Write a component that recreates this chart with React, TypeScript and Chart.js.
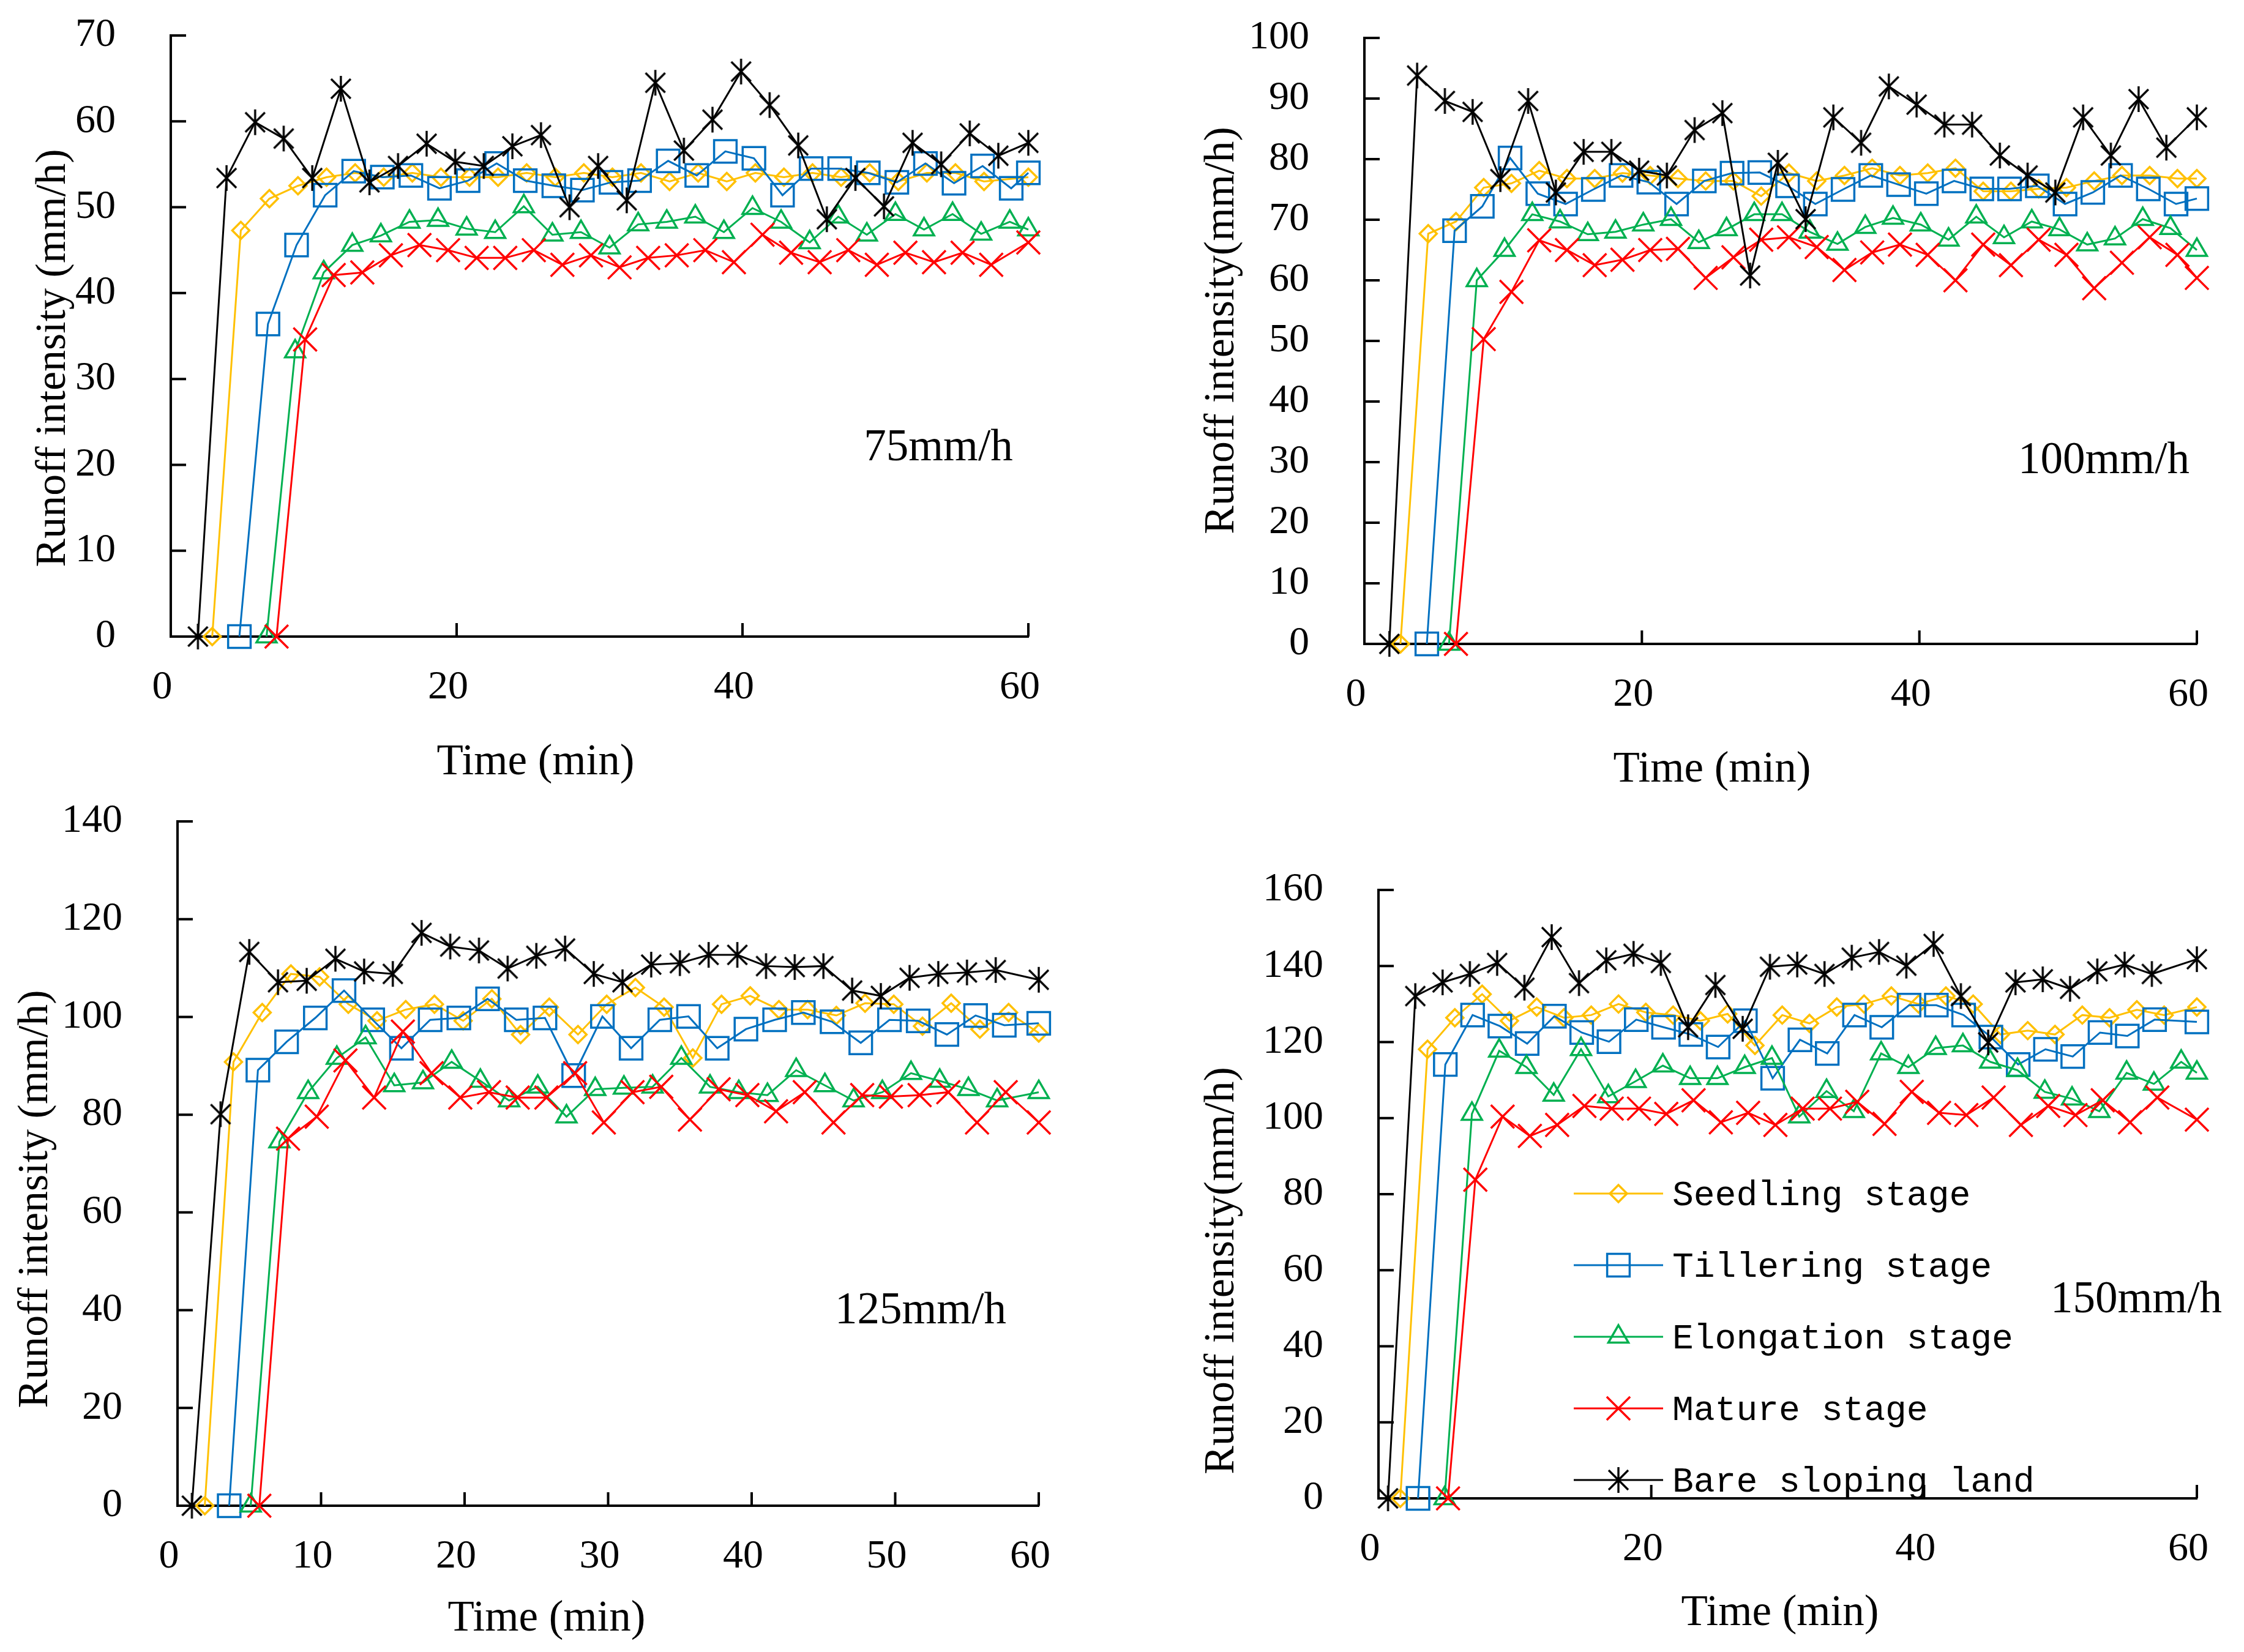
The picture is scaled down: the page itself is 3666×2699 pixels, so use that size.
import React, { useEffect, useRef } from "react";
import { Chart, registerables } from "chart.js";
import { drawPoint } from "chart.js/helpers";

Chart.register(...registerables);

// ---- series labels (legend order) ----
const SERIES_LABELS = [
  "Seedling stage",
  "Tillering stage",
  "Elongation stage",
  "Mature stage",
  "Bare sloping land",
];

// ---- 75 mm/h ----
const seedling75 = [0, 47.3, 51.0, 52.5, 53.5, 54.0, 53.5, 54.0, 53.5, 53.5, 53.5, 54.0, 53.5, 54.0, 53.5, 54.0, 53.0, 54.0, 53.0, 54.0, 53.5, 54.0, 53.5, 54.0, 53.0, 54.0, 54.0, 53.0, 53.5];
const tillering75 = [0, 36.4, 45.6, 51.4, 54.2, 53.5, 53.7, 52.2, 53.1, 55.1, 53.1, 52.5, 52.0, 52.9, 53.1, 55.4, 53.7, 56.5, 55.7, 51.4, 54.5, 54.5, 54.0, 52.9, 55.1, 52.8, 54.8, 52.2, 54.0];
const elongation75 = [0, 33.2, 42.4, 45.6, 46.7, 48.3, 48.5, 47.5, 47.1, 50.1, 46.8, 47.1, 45.3, 48.0, 48.3, 48.9, 47.1, 49.9, 48.3, 45.9, 48.9, 46.8, 49.2, 47.4, 49.2, 46.9, 48.3, 47.4];
const mature75 = [0, 34.6, 42.1, 42.4, 44.4, 45.6, 45.0, 44.1, 44.1, 45.0, 43.3, 44.4, 43.0, 44.1, 44.4, 45.0, 43.6, 46.8, 44.7, 43.6, 45.0, 43.3, 44.7, 43.6, 44.7, 43.3, 45.9];
const bare75 = [0, 53.4, 59.9, 58.0, 53.4, 63.8, 52.9, 54.8, 57.4, 55.3, 54.8, 57.1, 58.4, 50.0, 54.8, 50.8, 64.5, 56.6, 60.2, 65.8, 61.9, 57.2, 48.6, 53.4, 50.1, 57.5, 55.0, 58.6, 56.0, 57.5];
// first sampling time (min) of each series, then every 2 min, last sample at 60 min
const start75 = [2.9, 4.8, 6.7, 7.4, 1.9];

// ---- 100 mm/h ----
const seedling100 = [0, 67.7, 69.7, 75.3, 76.0, 78.1, 76.8, 76.8, 77.7, 77.3, 76.8, 76.4, 76.4, 73.9, 77.7, 76.4, 77.3, 78.5, 77.3, 77.7, 78.5, 74.7, 74.7, 75.1, 75.3, 76.4, 77.3, 77.3, 76.8, 76.8];
const tillering100 = [0, 68.2, 72.2, 80.2, 74.3, 72.6, 75.0, 77.3, 76.2, 72.6, 76.4, 77.7, 77.8, 75.6, 72.6, 75.0, 77.3, 75.8, 74.3, 76.4, 75.1, 75.1, 75.6, 72.6, 74.5, 77.3, 75.1, 72.6, 73.5];
const elongation100 = [0, 60.0, 65.0, 70.9, 69.7, 67.6, 68.0, 69.2, 70.1, 66.3, 68.4, 70.9, 70.9, 68.0, 66.0, 68.8, 70.3, 69.2, 66.7, 70.5, 67.1, 69.7, 68.4, 65.9, 66.9, 70.1, 68.6, 65.0];
const mature100 = [0, 50.3, 58.1, 66.6, 65.0, 62.5, 63.4, 65.0, 65.2, 60.4, 63.8, 66.7, 67.1, 65.5, 61.7, 64.6, 65.9, 64.2, 60.0, 65.9, 62.5, 66.7, 64.2, 58.7, 62.9, 67.1, 64.2, 60.4];
const bare100 = [0, 93.8, 89.6, 87.8, 76.7, 89.6, 74.5, 81.2, 81.2, 78.1, 77.3, 84.8, 87.6, 60.8, 79.4, 70.1, 86.9, 82.7, 92.0, 89.0, 85.7, 85.7, 80.6, 77.3, 74.5, 86.9, 80.6, 89.9, 81.9, 86.9];
const start100 = [2.6, 4.5, 6.1, 6.6, 1.8];

// ---- 125 mm/h ----
const seedling125 = [0, 90.8, 100.9, 108.8, 108.2, 102.6, 99.2, 101.5, 102.6, 99.2, 103.7, 96.4, 102.0, 96.4, 102.6, 106.0, 102.0, 91.6, 102.6, 104.3, 101.5, 101.5, 100.3, 102.8, 102.6, 98.1, 102.8, 97.5, 100.9, 96.7];
const tillering125 = [0, 89.1, 94.9, 99.8, 105.4, 99.4, 93.6, 99.4, 99.8, 103.7, 99.4, 99.8, 88.0, 100.1, 93.6, 99.4, 100.1, 93.6, 97.5, 99.4, 100.9, 99.0, 94.7, 99.4, 99.2, 96.4, 100.3, 98.3, 98.7];
const elongation125 = [0, 74.5, 84.6, 91.6, 95.8, 86.0, 86.6, 90.8, 86.9, 82.9, 85.7, 79.6, 85.2, 85.5, 85.7, 91.6, 85.7, 84.6, 84.0, 89.1, 86.0, 82.9, 84.6, 88.5, 86.9, 85.2, 82.9, 84.6];
const mature125 = [0, 75.1, 79.6, 91.1, 83.5, 97.0, 88.5, 83.5, 84.6, 83.5, 83.5, 88.5, 78.4, 84.6, 85.7, 79.0, 85.2, 84.0, 80.7, 84.6, 78.4, 84.0, 83.7, 84.0, 84.6, 78.4, 84.6, 78.4];
const bare125 = [0, 80.1, 113.3, 107.1, 107.4, 111.9, 109.3, 108.8, 117.2, 114.4, 113.6, 109.9, 112.5, 114.0, 108.8, 107.1, 110.7, 111.0, 112.7, 112.7, 110.4, 110.2, 110.4, 105.4, 104.3, 108.0, 108.8, 109.1, 109.6, 107.6];
const start125 = [1.9, 3.6, 5.1, 5.7, 1.0];

// ---- 150 mm/h ----
const seedling150 = [0, 118.1, 126.4, 132.6, 125.6, 129.2, 126.4, 127.1, 130.0, 127.8, 127.1, 125.6, 127.4, 119.1, 127.1, 124.9, 129.2, 130.0, 132.1, 130.0, 132.1, 130.0, 122.0, 123.0, 122.0, 127.1, 126.4, 128.5, 127.1, 129.2];
const tillering150 = [0, 114.1, 127.1, 124.2, 119.6, 126.8, 122.5, 120.1, 125.9, 123.9, 122.0, 118.7, 125.6, 110.5, 120.6, 117.0, 127.1, 123.9, 129.7, 129.7, 127.1, 121.3, 114.1, 118.1, 116.2, 122.5, 121.6, 125.9, 125.3];
const elongation150 = [0, 101.1, 117.7, 113.4, 106.1, 118.1, 105.7, 109.7, 113.8, 110.5, 110.5, 113.4, 115.8, 100.4, 107.1, 101.8, 117.0, 113.4, 118.4, 119.1, 114.8, 112.6, 106.9, 105.1, 101.8, 111.9, 109.0, 114.8, 111.9];
const mature150 = [0, 83.8, 100.4, 95.3, 98.2, 103.2, 102.5, 102.5, 101.1, 104.7, 98.9, 101.4, 98.2, 102.5, 102.5, 104.3, 98.5, 106.9, 101.4, 100.8, 105.4, 98.2, 103.2, 100.8, 104.7, 98.9, 105.4, 99.6];
const bare150 = [0, 132.1, 135.7, 137.9, 140.8, 134.3, 147.6, 135.5, 141.5, 143.2, 140.8, 123.9, 135.0, 123.5, 139.8, 140.4, 137.9, 142.2, 143.7, 140.1, 145.8, 132.1, 119.9, 135.7, 136.5, 134.0, 138.6, 140.4, 137.9, 141.8];
const start150 = [1.6, 2.9, 4.85, 5.1, 0.7];

// ---- styling ----
const COLORS = ["#FFC000", "#0070C0", "#00B050", "#FF0000", "#000000"];
const RADII = [14, 26, 19, 27, 20];
const SERIF = '"Liberation Serif", "Times New Roman", serif';
const MONO = '"Liberation Mono", "DejaVu Sans Mono", monospace';

type PanelCfg = {
  left: number;
  top: number;
  w: number;
  h: number;
  area: { l: number; t: number; r: number; b: number };
  yMax: number;
  yStep: number;
  xStep: number;
  values: number[][];
  starts: number[];
  yTitle: string;
  note: string;
  xTitlePos: [number, number];
  yTitlePos: [number, number];
  notePos: [number, number];
  legend?: { x1: number; x2: number; xText: number; y0: number; dy: number };
};

const PANELS: PanelCfg[] = [
  {
    left: 0, top: 0, w: 1833, h: 1300,
    area: { l: 279, t: 58, r: 1680, b: 1040 },
    yMax: 70, yStep: 10, xStep: 20,
    values: [seedling75, tillering75, elongation75, mature75, bare75],
    starts: start75,
    yTitle: "Runoff intensity (mm/h)", note: "75mm/h",
    xTitlePos: [875, 1246], yTitlePos: [88, 585], notePos: [1533, 733],
  },
  {
    left: 1833, top: 0, w: 1833, h: 1300,
    area: { l: 396, t: 62, r: 1765, b: 1052 },
    yMax: 100, yStep: 10, xStep: 20,
    values: [seedling100, tillering100, elongation100, mature100, bare100],
    starts: start100,
    yTitle: "Runoff intensity(mm/h)", note: "100mm/h",
    xTitlePos: [964, 1258], yTitlePos: [164, 540], notePos: [1604, 754],
  },
  {
    left: 0, top: 1300, w: 1833, h: 1399,
    area: { l: 290, t: 42, r: 1697, b: 1160 },
    yMax: 140, yStep: 20, xStep: 10,
    values: [seedling125, tillering125, elongation125, mature125, bare125],
    starts: start125,
    yTitle: "Runoff intensity (mm/h)", note: "125mm/h",
    xTitlePos: [893, 1345], yTitlePos: [59, 659], notePos: [1504, 843],
  },
  {
    left: 1833, top: 1300, w: 1833, h: 1399,
    area: { l: 419, t: 154, r: 1772, b: 1148 },
    yMax: 160, yStep: 20, xStep: 20,
    values: [seedling150, tillering150, elongation150, mature150, bare150],
    starts: start150,
    yTitle: "Runoff intensity(mm/h)", note: "150mm/h",
    xTitlePos: [1075, 1336], yTitlePos: [164, 776], notePos: [1657, 825],
    legend: { x1: 738, x2: 884, xText: 899, y0: 650, dy: 117 },
  },
];

function sampleTimes(start: number, n: number): number[] {
  const t: number[] = [];
  for (let i = 0; i < n - 1; i++) t.push(start + 2 * i);
  t.push(60);
  return t;
}

function makeAsterisk(): HTMLCanvasElement {
  const c = document.createElement("canvas");
  c.width = 46;
  c.height = 46;
  const g = c.getContext("2d")!;
  g.strokeStyle = "#000";
  g.lineWidth = 3.4;
  g.beginPath();
  g.moveTo(23, 2);
  g.lineTo(23, 44);
  g.moveTo(7, 7);
  g.lineTo(39, 39);
  g.moveTo(39, 7);
  g.lineTo(7, 39);
  g.stroke();
  return c;
}

const Panel: React.FC<{ cfg: PanelCfg }> = ({ cfg }) => {
  const chartRef = useRef<HTMLCanvasElement>(null);
  const chartInstance = useRef<Chart | null>(null);

  useEffect(() => {
    if (!chartRef.current) return;
    if (chartInstance.current) chartInstance.current.destroy();

    const asterisk = makeAsterisk();
    const styles: any[] = ["rectRot", "rect", "triangle", "crossRot", asterisk];

    const datasets = cfg.values.map((vals, i) => {
      const t = sampleTimes(cfg.starts[i], vals.length);
      return {
        label: SERIES_LABELS[i],
        data: vals.map((v, k) => ({ x: t[k], y: v })),
        borderColor: COLORS[i],
        backgroundColor: "rgba(0,0,0,0)",
        borderWidth: 3,
        pointStyle: styles[i],
        pointRadius: RADII[i],
        pointBorderWidth: 3.5,
        pointBorderColor: COLORS[i],
        pointBackgroundColor: "rgba(0,0,0,0)",
        tension: 0,
        clip: false as any,
        order: 4 - i,
      };
    });

    const decorations = {
      id: "decorations",
      afterDraw(chart: Chart) {
        const ctx = chart.ctx;
        const area = chart.chartArea;
        const xs = chart.scales.x;
        const ys = chart.scales.y;
        ctx.save();
        // inward tick marks
        ctx.strokeStyle = "#000";
        ctx.lineWidth = 4;
        ctx.beginPath();
        ys.ticks.forEach((tk) => {
          if (tk.value === 0) return;
          const y = ys.getPixelForValue(tk.value);
          ctx.moveTo(area.left, y);
          ctx.lineTo(area.left + 25, y);
        });
        xs.ticks.forEach((tk) => {
          if (tk.value === 0) return;
          const x = xs.getPixelForValue(tk.value);
          ctx.moveTo(x, area.bottom);
          ctx.lineTo(x, area.bottom - 22);
        });
        ctx.stroke();

        // titles and rainfall note
        ctx.fillStyle = "#000";
        ctx.textAlign = "center";
        ctx.textBaseline = "middle";
        ctx.font = `71px ${SERIF}`;
        ctx.fillText("Time (min)", cfg.xTitlePos[0], cfg.xTitlePos[1]);
        ctx.font = `73px ${SERIF}`;
        ctx.fillText(cfg.note, cfg.notePos[0], cfg.notePos[1]);
        ctx.font = `70px ${SERIF}`;
        ctx.save();
        ctx.translate(cfg.yTitlePos[0], cfg.yTitlePos[1]);
        ctx.rotate(-Math.PI / 2);
        ctx.fillText(cfg.yTitle, 0, 0);
        ctx.restore();

        // legend with line + marker samples
        const lg = cfg.legend;
        if (lg) {
          SERIES_LABELS.forEach((label, i) => {
            const y = lg.y0 + i * lg.dy;
            ctx.strokeStyle = COLORS[i];
            ctx.lineWidth = 3;
            ctx.beginPath();
            ctx.moveTo(lg.x1, y);
            ctx.lineTo(lg.x2, y);
            ctx.stroke();
            ctx.lineWidth = 3.5;
            ctx.fillStyle = "rgba(0,0,0,0)";
            drawPoint(
              ctx,
              { pointStyle: styles[i], rotation: 0, radius: RADII[i], borderWidth: 3.5 } as any,
              (lg.x1 + lg.x2) / 2,
              y
            );
            ctx.fillStyle = "#000";
            ctx.textAlign = "left";
            ctx.textBaseline = "middle";
            ctx.font = `58px ${MONO}`;
            ctx.fillText(label, lg.xText, y + 4);
          });
        }
        ctx.restore();
      },
    };

    const tickFont = { family: SERIF, size: 66 };

    chartInstance.current = new Chart(chartRef.current, {
      type: "line",
      data: { datasets: datasets as any },
      options: {
        responsive: false,
        animation: false,
        layout: {
          padding: { left: 0, top: cfg.area.t, right: cfg.w - cfg.area.r, bottom: 0 },
        },
        plugins: { legend: { display: false }, tooltip: { enabled: false } },
        scales: {
          x: {
            type: "linear",
            min: 0,
            max: 60,
            ticks: {
              stepSize: cfg.xStep,
              font: tickFont,
              color: "#000",
              padding: 44,
              labelOffset: -14,
              maxRotation: 0,
              autoSkip: false,
            },
            grid: { display: false, drawTicks: false },
            border: { display: true, color: "#000", width: 4 },
            afterFit: (s: any) => {
              s.height = cfg.h - cfg.area.b;
            },
          },
          y: {
            type: "linear",
            min: 0,
            max: cfg.yMax,
            ticks: {
              stepSize: cfg.yStep,
              font: tickFont,
              color: "#000",
              padding: 2,
              autoSkip: false,
            },
            // hidden tick marks used only as label offset (keeps top padding small)
            grid: { display: false, drawTicks: true, tickLength: 88 },
            border: { display: true, color: "#000", width: 4 },
            afterFit: (s: any) => {
              s.width = cfg.area.l;
            },
          },
        },
      },
      plugins: [decorations],
    });

    return () => {
      if (chartInstance.current) {
        chartInstance.current.destroy();
        chartInstance.current = null;
      }
    };
  }, [cfg]);

  return (
    <canvas
      ref={chartRef}
      width={cfg.w}
      height={cfg.h}
      style={{ position: "absolute", left: cfg.left, top: cfg.top, width: cfg.w, height: cfg.h }}
    />
  );
};

export default function App() {
  useEffect(() => {
    document.body.style.margin = "0";
  }, []);
  return (
    <div style={{ position: "relative", width: 3666, height: 2699, background: "#fff" }}>
      {PANELS.map((p, i) => (
        <Panel key={i} cfg={p} />
      ))}
    </div>
  );
}
